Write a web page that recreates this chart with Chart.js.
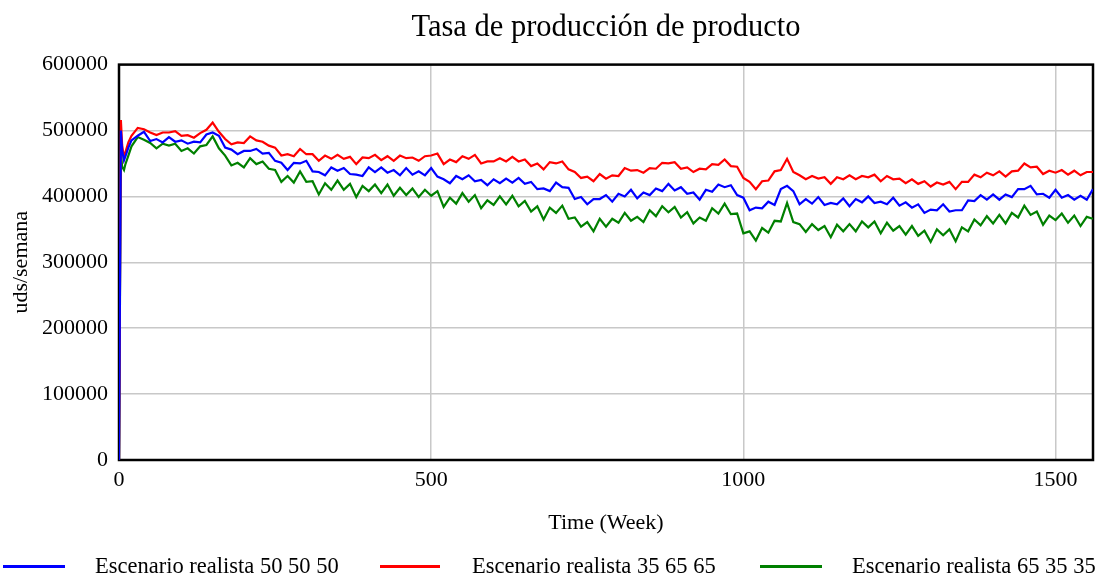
<!DOCTYPE html>
<html>
<head>
<meta charset="utf-8">
<script src="https://cdn.jsdelivr.net/npm/chart.js@4.4.1/dist/chart.umd.min.js"></script>
<style>
  body { margin: 0; background: #fff; }
  .wrap { position: relative; width: 1102px; height: 577px; }
  .legend-item { position: absolute; top: 552px; height: 28px; font: 22.5px 'Liberation Serif', serif; color: #000; white-space: nowrap; }
  .legend-item .swatch { position: absolute; top: 13px; height: 3px; }
  .legend-item .label { position: absolute; top: 0; line-height: 28px; }
</style>
</head>
<body>
<div class="wrap">
  <canvas id="chart" width="1102" height="577"></canvas>
  <div id="legend"></div>
</div>
<script>
'use strict';

// Time (Week)
var weeks = [0, 3, 5, 8, 10, 15, 20,
  30, 40, 50, 60, 70, 80, 90, 100, 110, 120, 130, 140, 150, 160, 170, 180, 190, 200,
  210, 220, 230, 240, 250, 260, 270, 280, 290, 300, 310, 320, 330, 340, 350, 360, 370, 380, 390, 400,
  410, 420, 430, 440, 450, 460, 470, 480, 490, 500, 510, 520, 530, 540, 550, 560, 570, 580, 590, 600,
  610, 620, 630, 640, 650, 660, 670, 680, 690, 700, 710, 720, 730, 740, 750, 760, 770, 780, 790, 800,
  810, 820, 830, 840, 850, 860, 870, 880, 890, 900, 910, 920, 930, 940, 950, 960, 970, 980, 990, 1000,
  1010, 1020, 1030, 1040, 1050, 1060, 1070, 1080, 1090, 1100, 1110, 1120, 1130, 1140, 1150, 1160, 1170, 1180, 1190, 1200,
  1210, 1220, 1230, 1240, 1250, 1260, 1270, 1280, 1290, 1300, 1310, 1320, 1330, 1340, 1350, 1360, 1370, 1380, 1390, 1400,
  1410, 1420, 1430, 1440, 1450, 1460, 1470, 1480, 1490, 1500, 1510, 1520, 1530, 1540, 1550, 1560];

// Escenario realista 50 50 50
var blue = [0, 500000, 470000, 455000, 460000, 474000, 485000,
  492000, 498000, 484000, 487000, 482000, 490000, 483000, 485000, 480000, 483000, 482000, 494000, 497000, 492000, 474000, 471000, 464000, 469000,
  469000, 472000, 465000, 466000, 454000, 451000, 440000, 451000, 450000, 454000, 438000, 437000, 432000, 444000, 439000, 443000, 434000, 433000, 431000, 444000,
  437000, 444000, 436000, 440000, 432000, 443000, 433000, 438000, 432000, 443000, 430000, 426000, 420000, 431000, 426000, 432000, 423000, 425000, 417000, 426000,
  420000, 427000, 421000, 428000, 419000, 422000, 411000, 412000, 408000, 421000, 414000, 413000, 396000, 399000, 388000, 396000, 396000, 402000, 392000, 404000,
  400000, 410000, 397000, 406000, 402000, 412000, 408000, 419000, 409000, 414000, 404000, 406000, 395000, 410000, 407000, 418000, 414000, 417000, 402000, 398000,
  379000, 383000, 382000, 392000, 387000, 411000, 416000, 408000, 388000, 396000, 389000, 399000, 387000, 390000, 388000, 397000, 385000, 396000, 391000, 400000,
  390000, 392000, 388000, 398000, 386000, 391000, 383000, 388000, 375000, 380000, 379000, 388000, 377000, 379000, 379000, 394000, 393000, 402000, 395000, 403000,
  395000, 403000, 399000, 411000, 411000, 416000, 403000, 404000, 398000, 410000, 398000, 402000, 395000, 401000, 395000, 411000];

// Escenario realista 35 65 65
var red = [0, 516000, 478000, 458000, 466000, 482000, 492000,
  504000, 502000, 497000, 493000, 497000, 497000, 499000, 492000, 493000, 489000, 496000, 501000, 512000, 498000, 487000, 479000, 482000, 481000,
  491000, 485000, 483000, 477000, 474000, 462000, 464000, 461000, 472000, 464000, 464000, 454000, 462000, 457000, 463000, 457000, 460000, 449000, 459000, 458000,
  463000, 455000, 461000, 454000, 462000, 458000, 459000, 454000, 461000, 462000, 465000, 449000, 456000, 452000, 461000, 457000, 463000, 450000, 453000, 453000,
  458000, 453000, 460000, 453000, 456000, 446000, 450000, 441000, 452000, 450000, 453000, 441000, 437000, 428000, 430000, 423000, 434000, 427000, 432000, 431000,
  443000, 439000, 440000, 436000, 443000, 442000, 451000, 450000, 452000, 442000, 444000, 437000, 442000, 441000, 449000, 448000, 456000, 446000, 445000, 428000,
  422000, 411000, 423000, 424000, 438000, 440000, 457000, 437000, 432000, 426000, 431000, 427000, 429000, 419000, 429000, 426000, 432000, 426000, 431000, 429000,
  433000, 423000, 431000, 426000, 427000, 420000, 426000, 419000, 423000, 415000, 421000, 418000, 422000, 411000, 422000, 422000, 433000, 429000, 436000, 432000,
  438000, 430000, 438000, 439000, 450000, 444000, 445000, 434000, 439000, 436000, 440000, 433000, 439000, 432000, 437000, 437000];

// Escenario realista 65 35 35
var green = [0, 470000, 445000, 440000, 448000, 462000, 476000,
  490000, 486000, 481000, 473000, 480000, 477000, 480000, 469000, 473000, 465000, 476000, 478000, 491000, 473000, 462000, 447000, 451000, 444000,
  458000, 449000, 453000, 442000, 440000, 422000, 431000, 421000, 438000, 422000, 423000, 403000, 420000, 410000, 424000, 410000, 419000, 399000, 416000, 408000,
  418000, 405000, 418000, 401000, 413000, 402000, 412000, 399000, 410000, 401000, 408000, 384000, 398000, 389000, 405000, 392000, 402000, 382000, 394000, 387000,
  400000, 388000, 401000, 385000, 393000, 377000, 385000, 365000, 383000, 375000, 386000, 366000, 368000, 354000, 361000, 347000, 366000, 354000, 366000, 360000,
  375000, 363000, 369000, 361000, 379000, 370000, 385000, 376000, 384000, 368000, 376000, 359000, 368000, 363000, 382000, 374000, 389000, 373000, 374000, 344000,
  347000, 333000, 352000, 345000, 363000, 362000, 390000, 361000, 358000, 346000, 358000, 349000, 355000, 338000, 357000, 347000, 358000, 347000, 362000, 353000,
  362000, 344000, 360000, 348000, 355000, 342000, 355000, 340000, 348000, 331000, 350000, 341000, 350000, 332000, 353000, 347000, 365000, 356000, 370000, 359000,
  372000, 359000, 375000, 368000, 386000, 372000, 377000, 357000, 371000, 364000, 374000, 360000, 371000, 355000, 369000, 366000];

var xTicks = [0, 500, 1000, 1500];
var yTicks = [0, 100000, 200000, 300000, 400000, 500000, 600000];

var seriesNames = ['Escenario realista 50 50 50', 'Escenario realista 35 65 65', 'Escenario realista 65 35 35'];
var seriesColors = ['#0000ff', '#ff0000', '#008000'];

function points(values) {
  return weeks.map(function(w, i) {
    return { x: w, y: values[i] };
  });
}

// black frame round the plot
var framePlugin = {
  id: 'frame',
  beforeDatasetsDraw: function(chart) {
    var a = chart.chartArea;
    var ctx = chart.ctx;
    ctx.save();
    ctx.strokeStyle = '#000';
    ctx.lineWidth = 2.5;
    ctx.strokeRect(a.left, a.top, a.right - a.left, a.bottom - a.top);
    ctx.restore();
  }
};

var serif = "'Liberation Serif', 'Times New Roman', serif";

var ctx = document.getElementById('chart').getContext('2d');

var chart = new Chart(ctx, {
  type: 'line',
  data: {
    datasets: [
      { label: seriesNames[0], data: points(blue), borderColor: seriesColors[0] },
      { label: seriesNames[1], data: points(red), borderColor: seriesColors[1] },
      { label: seriesNames[2], data: points(green), borderColor: seriesColors[2] }
    ]
  },
  options: {
    responsive: false,
    animation: false,
    layout: { padding: { left: 0, right: 9, top: 0, bottom: 37 } },
    elements: {
      line: { borderWidth: 2.2, tension: 0, fill: false },
      point: { radius: 0, hoverRadius: 0 }
    },
    plugins: {
      legend: { display: false },
      tooltip: { enabled: false },
      title: {
        display: true,
        fullSize: false,
        text: 'Tasa de producción de producto',
        color: '#000',
        font: { family: serif, size: 30.5, weight: 'normal' },
        padding: { top: 10, bottom: 18 }
      }
    },
    scales: {
      x: {
        type: 'linear',
        min: 0,
        max: 1560,
        afterBuildTicks: function(scale) {
          scale.ticks = xTicks.map(function(v) { return { value: v }; });
        },
        afterFit: function(scale) { scale.height = 80; },
        grid: { color: '#c8c8c8', lineWidth: 1.5, drawTicks: false },
        border: { display: false },
        ticks: {
          padding: 7,
          color: '#000',
          maxRotation: 0,
          font: { family: serif, size: 22 },
          callback: function(v) { return String(v); }
        },
        title: {
          display: true,
          text: 'Time (Week)',
          color: '#000',
          font: { family: serif, size: 22 },
          padding: { top: 0, bottom: 4 }
        }
      },
      y: {
        min: 0,
        max: 600000,
        afterBuildTicks: function(scale) {
          scale.ticks = yTicks.map(function(v) { return { value: v }; });
        },
        afterFit: function(scale) { scale.width = 119; },
        grid: { color: '#c8c8c8', lineWidth: 1.5, drawTicks: false },
        border: { display: false },
        ticks: {
          padding: 11,
          color: '#000',
          font: { family: serif, size: 22 },
          callback: function(v) { return String(v); }
        },
        title: {
          display: true,
          text: 'uds/semana',
          color: '#000',
          font: { family: serif, size: 22 },
          padding: { top: 8, bottom: 0 }
        }
      }
    }
  },
  plugins: [framePlugin]
});

// Legend (below the axis title)
var legendPos = [
  { line: 3, lineEnd: 65, text: 95 },
  { line: 380, lineEnd: 440, text: 472 },
  { line: 760, lineEnd: 822, text: 852 }
];

var legend = document.getElementById('legend');
for (var i = 0; i < seriesNames.length; i++) {
  var item = document.createElement('div');
  item.className = 'legend-item';
  item.style.left = '0px';
  var sw = document.createElement('span');
  sw.className = 'swatch';
  sw.style.left = legendPos[i].line + 'px';
  sw.style.width = (legendPos[i].lineEnd - legendPos[i].line) + 'px';
  sw.style.background = seriesColors[i];
  var lb = document.createElement('span');
  lb.className = 'label';
  lb.style.left = legendPos[i].text + 'px';
  lb.textContent = seriesNames[i];
  item.appendChild(sw);
  item.appendChild(lb);
  legend.appendChild(item);
}
</script>
</body>
</html>
